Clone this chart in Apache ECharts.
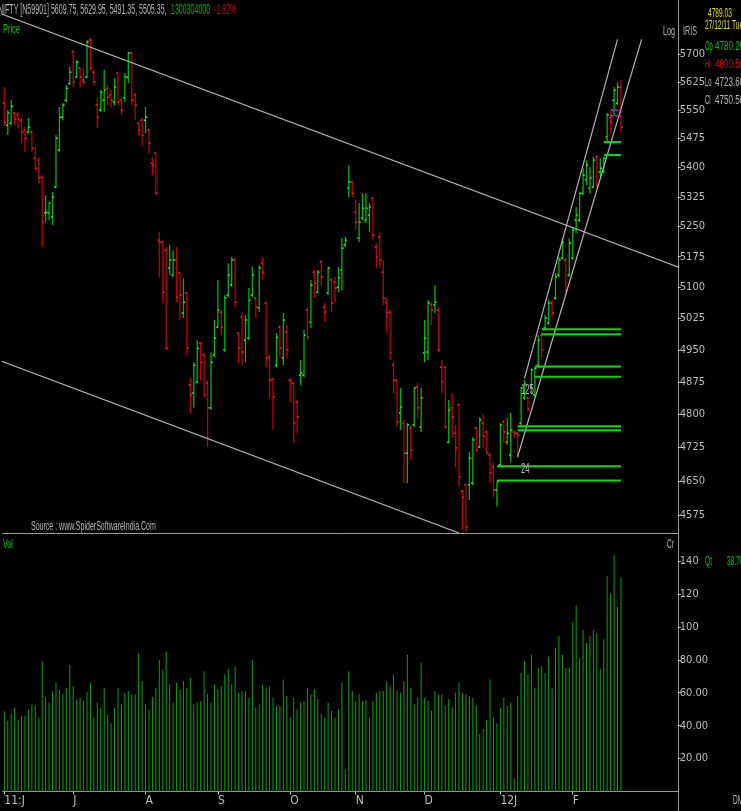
<!DOCTYPE html>
<html><head><meta charset="utf-8">
<script src="https://cdn.jsdelivr.net/npm/echarts@6/dist/echarts.min.js"></script>
<style>html,body{margin:0;padding:0;background:#000;overflow:hidden}#c{width:741px;height:811px}</style>
</head><body><div id="c"></div>
<script>
// ---- data ----
// daily bars: [open, high, low, close]
const ohlc = [
[5568,5611,5510,5518],[5510,5550,5484,5542],[5515,5576,5510,5560],[5542,5545,5510,5526],[5537,5545,5502,5526],
[5523,5529,5463,5492],[5497,5505,5440,5476],[5492,5529,5489,5505],[5492,5497,5440,5450],[5424,5453,5393,5398],
[5419,5427,5360,5373],[5375,5380,5199,5261],[5284,5329,5261,5286],[5284,5312,5266,5309],[5274,5337,5254,5324],
[5350,5484,5347,5476],[5445,5558,5440,5531],[5531,5568,5523,5563],[5576,5616,5571,5608],[5621,5665,5616,5651],
[5706,5711,5611,5625],[5638,5684,5635,5678],[5662,5665,5611,5638],[5630,5662,5616,5625],[5638,5738,5635,5733],
[5738,5744,5657,5662],[5651,5657,5616,5625],[5563,5584,5502,5531],[5550,5603,5545,5598],[5576,5657,5545,5603],
[5608,5616,5563,5584],[5590,5603,5558,5576],[5571,5635,5563,5611],[5649,5651,5563,5571],[5576,5584,5537,5550],
[5582,5649,5571,5638],[5638,5706,5622,5703],[5703,5706,5563,5576],[5590,5595,5523,5563],[5515,5518,5484,5497],
[5523,5529,5458,5484],[5523,5558,5489,5531],[5497,5502,5437,5463],[5411,5427,5380,5406],[5437,5440,5329,5334],
[5216,5236,5123,5211],[5211,5216,5062,5088],[5191,5199,4950,4954],[5147,5204,5130,5167],[5130,5191,5125,5167],
[5167,5199,5064,5076],[5135,5137,5021,5081],[5038,5122,5026,5064],[5086,5088,4938,4954],[4868,4884,4803,4845],
[4849,4921,4815,4914],[4875,4973,4872,4954],[4966,4969,4879,4921],[4938,4943,4838,4845],[4872,4879,4726,4815],
[4815,4943,4810,4921],[4938,5021,4933,4978],[5004,5118,5002,5045],[5040,5045,4985,5004],[4950,5081,4945,5074],
[5081,5159,5076,5130],[5106,5174,5101,5167],[5167,5172,5052,5064],[4990,4992,4919,4954],[5028,5038,4914,4945],
[4973,5033,4921,5021],[4978,5098,4973,5069],[5081,5150,5076,5130],[5074,5076,5026,5052],[5050,5154,5040,5147],
[5159,5174,5118,5137],[5062,5064,4909,4931],[4933,4938,4838,4879],[4882,4884,4764,4840],[4914,4990,4909,4980],
[5004,5009,4933,4954],[4931,5038,4914,5021],[4992,5009,4931,4950],[4879,4884,4828,4875],[4872,4875,4735,4780],
[4828,4833,4757,4794],[4891,4926,4868,4896],[4891,4997,4886,4985],[5045,5052,4973,4980],[5016,5118,5002,5105],
[5137,5142,5074,5110],[5088,5142,5086,5137],[5162,5167,5105,5125],[5052,5062,5016,5040],[5086,5150,5081,5147],
[5118,5123,5040,5062],[5113,5125,5064,5098],[5100,5150,5088,5123],[5142,5221,5093,5196],[5204,5224,5199,5216],
[5347,5406,5324,5363],[5362,5366,5324,5334],[5286,5317,5241,5261],[5221,5309,5211,5261],[5271,5334,5266,5296],
[5266,5334,5259,5296],[5279,5309,5236,5299],[5322,5324,5216,5229],[5199,5209,5147,5174],[5224,5236,5147,5167],
[5137,5167,5057,5074],[5064,5074,4992,5038],[5040,5045,4926,4943],[4914,4921,4849,4879],[4879,4882,4771,4783],
[4803,4861,4764,4817],[4780,4787,4645,4712],[4712,4780,4645,4776],[4769,4776,4697,4719],[4776,4863,4771,4861],
[4863,4872,4792,4815],[4771,4861,4760,4838],[4943,5021,4921,4978],[4945,5069,4926,5062],[5057,5064,5009,5045],
[5057,5105,5038,5064],[5045,5052,4945,4950],[4909,4926,4849,4875],[4909,4914,4767,4771],[4737,4833,4735,4810],
[4815,4849,4748,4794],[4757,4776,4681,4724],[4822,4826,4637,4659],[4628,4630,4543,4614],[4641,4645,4538,4549],
[4641,4715,4608,4701],[4645,4749,4641,4742],[4769,4771,4715,4719],[4726,4794,4724,4787],[4780.2,4800.5,4723.6,4750.5],
[4760,4764,4712,4712],[4708,4712,4645,4668],[4681,4690,4615,4630],[4630,4648,4593,4648],[4686,4780,4681,4776],
[4783,4787,4735,4760],[4737,4792,4731,4757],[4708,4803,4692,4764],[4760,4764,4746,4757],[4757,4760,4701,4753],
[4780,4863,4771,4861],[4838,4879,4833,4870],[4838,4840,4808,4812],[4867,4907,4851,4903],[4845,4909,4840,4907],
[4914,4985,4909,4973],[4985,4992,4933,4950],[5002,5033,5000,5026],[5014,5069,5009,5062],[5062,5069,5028,5038],
[5074,5135,5069,5125],[5130,5174,5125,5167],[5172,5221,5167,5211],[5167,5172,5086,5093],[5130,5221,5125,5209],
[5172,5249,5167,5241],[5266,5299,5234,5279],[5266,5337,5261,5334],[5334,5398,5329,5380],[5368,5419,5355,5406],
[5347,5401,5334,5373],[5350,5427,5347,5419],[5427,5432,5347,5355],[5388,5424,5375,5398],[5388,5427,5385,5424],
[5479,5542,5466,5537],[5531,5545,5489,5518],[5576,5611,5537,5603],[5568,5625,5563,5611],[5609.75,5629.95,5491.35,5505.35]
];
// volume (Cr)
const volume = [
48.6,43,47,51,43.5,46,46,50,53,52, 45,79,57,54,61,66,62,59,63,77,
64,56,57,55,60.5,66,45,54,51,63, 46.5,41.5,51,63,53,60,61,59,59,84,
67,53,50,57.5,63,80,74,85,65,54, 66,62,67,63,69,53,54,55,73,59,
54,65,62,64,71,74.5,65,76,60,61, 61,57,80,51,53,65,63,64,57,52,
52,68,58,45,57,50,54,55,63,59, 62,56,47,45,54,49,45,50,66,13,
73,61,55,59,55,55.5,45,55,60,61, 61,67,64,71,61,60,67,83,63,53,
57,78,57,55,49,61,59,59,52,56, 51,60,66,60,59,58,57,52,35,38,
43.5,68,45,41.5,51,57,52,54,8,58, 72,79,71,83,63,75,76,72,82,63,
87,94.5,83,75,75,103,113,81,98,90, 94.5,98,96.5,74.5,92.5,131,120,143.5,112,130
];
const slotCount = 196;                 // bar slots on the time axis (incl. empty right margin)
const monthLabels = ['11:J','J','A','S','O','N','D','12J','F'];
const monthStartIdx = [0,20,41,62,83,102,122,144,165];
const priceTicks = [4575,4650,4725,4800,4875,4950,5025,5100,5175,5250,5325,5400,5475,5550,5625,5700];
const priceMin = 4536, priceMax = 5849;
const volMax = 155.8;
// trend lines: [x1 index, price1, x2 index, price2]
const trendLines = [[-1.25,5811,195.6,5148],[-1.25,4924,132.3,4536],[150.7,4883,178.2,5740],[149.0,4704,184.5,5740]];
// horizontal levels: [from index, to index, price]
const levelLines = [[156,179,4999],[156,179,4987],[154,179,4911],[154,179,4887],[149,179,4773],[149,179,4764],[143,179,4683],[143,179,4651],[174,179,5466],[174,179,5432]];
const markLevels = [[176,178.7,5550],[176.3,178.5,5535]];
const noteIdx = [150.3,150.2], notePrice = [4857,4676], noteText = ['125','24'];
// info panel (cursor bar)
const infoLabels = ['Op','Hi','Lo','Cl'];
const infoValues = ['4780.20','4800.50','4723.60','4750.50'];

// ---- chart ----
const cats = Array.from({length: slotCount}, (_, i) => String(i));
const FONT = 'Liberation Sans';
const NARROW = "'Liberation Sans Narrow','DejaVu Sans Condensed','Liberation Sans',sans-serif";
const GRAY = '#bdbdbd';
function txt(x, y, s, fill, size, sx) {
  return {type:'text', x:x, y:y, scaleX:sx, silent:true,
    style:{text:s, fill:fill, fontSize:size, fontFamily:FONT, verticalAlign:'middle', align:'left'}};
}
const infoColors = ['#00c800','#e00000','#b4b4b4','#b4b4b4'];
const infoY = [46, 64, 82, 100];
const infoTexts = [];
infoLabels.forEach((l, k) => {
  infoTexts.push(txt(705, infoY[k], l, infoColors[k], 13, 0.45));
  infoTexts.push(txt(715, infoY[k], infoValues[k], infoColors[k], 13, 0.62));
});
const chart = echarts.init(document.getElementById('c'), null, {renderer:'canvas'});
chart.setOption({
  backgroundColor:'#000',
  animation:false,
  grid:[
    {left:2.58, right:63.2, top:0, height:533},
    {left:2.58, right:63.2, top:535, height:256.5}
  ],
  xAxis:[
    {type:'category', gridIndex:0, data:cats, boundaryGap:true,
     axisLine:{lineStyle:{color:'#9a9a9a', width:1}}, axisTick:{show:false}, axisLabel:{show:false}, splitLine:{show:false}},
    {type:'category', gridIndex:1, data:cats, boundaryGap:true,
     axisLine:{lineStyle:{color:'#9a9a9a', width:1}},
     axisTick:{show:true, alignWithLabel:true, length:3, interval:(i)=>monthStartIdx.includes(i), lineStyle:{color:GRAY}},
     axisLabel:{show:true, interval:(i)=>monthStartIdx.includes(i), align:'left', margin:3, color:GRAY, fontSize:12, fontFamily:NARROW,
       formatter:(v, i)=>{const k = monthStartIdx.indexOf(Number(v)); return k >= 0 ? monthLabels[k] : '';}},
     splitLine:{show:false}}
  ],
  yAxis:[
    {type:'log', gridIndex:0, position:'right', min:priceMin, max:priceMax, logBase:10,
     axisLine:{show:false}, splitLine:{show:false},
     axisTick:{show:true, length:3, inside:false, customValues:priceTicks, lineStyle:{color:GRAY}},
     axisLabel:{show:true, customValues:priceTicks, margin:2, color:GRAY, fontSize:11, fontFamily:NARROW,
       formatter:(v)=>String(Math.round(v))}},
    {type:'value', gridIndex:1, position:'right', min:0, max:volMax, interval:20,
     axisLine:{show:false}, splitLine:{show:false},
     axisTick:{show:true, length:3, lineStyle:{color:GRAY}},
     axisLabel:{show:true, margin:2, color:GRAY, fontSize:11, fontFamily:NARROW, showMaxLabel:false, showMinLabel:false,
       formatter:(v)=> v === 0 ? '' : (v < 100 ? v.toFixed(2) : String(v))}}
  ],
  series:[
    {type:'custom', name:'price', xAxisIndex:0, yAxisIndex:0, silent:true,
     data: ohlc.map((d, i) => [i, d[0], d[1], d[2], d[3]]),
     encode:{x:0, y:[1,2,3,4]},
     renderItem:(p, api)=>{
       const i = api.value(0), o = api.value(1), h = api.value(2), l = api.value(3), c = api.value(4);
       const pH = api.coord([i, h]), pL = api.coord([i, l]), pO = api.coord([i, o]), pC = api.coord([i, c]);
       const up = c >= o;
       const x = pH[0];
       const body = up ? '#00b800' : '#c00000';
       const tick = up ? '#30ff30' : '#ff2828';
       return {type:'group', children:[
         {type:'line', shape:{x1:x, y1:pH[1], x2:x, y2:pL[1]}, style:{stroke:body, lineWidth:1.3}},
         {type:'line', shape:{x1:x-1.7, y1:pO[1], x2:x, y2:pO[1]}, style:{stroke:tick, lineWidth:1.4}},
         {type:'line', shape:{x1:x, y1:pC[1], x2:x+1.7, y2:pC[1]}, style:{stroke:tick, lineWidth:1.4}}
       ]};
     }},
    {type:'custom', name:'trend', xAxisIndex:0, yAxisIndex:0, silent:true, clip:true,
     data: trendLines, encode:{x:[0,2], y:[1,3]},
     renderItem:(p, api)=>{
       const a = api.coord([api.value(0), api.value(1)]), b = api.coord([api.value(2), api.value(3)]);
       return {type:'line', shape:{x1:a[0], y1:a[1], x2:b[0], y2:b[1]}, style:{stroke:'#b4b4b4', lineWidth:1.2}};
     }},
    {type:'custom', name:'levels', xAxisIndex:0, yAxisIndex:0, silent:true,
     data: levelLines, encode:{x:[0,1], y:2},
     renderItem:(p, api)=>{
       const a = api.coord([api.value(0), api.value(2)]), b = api.coord([api.value(1), api.value(2)]);
       return {type:'line', shape:{x1:a[0], y1:a[1], x2:b[0], y2:b[1]}, style:{stroke:'#00e000', lineWidth:2}};
     }},
    {type:'custom', name:'marks', xAxisIndex:0, yAxisIndex:0, silent:true,
     data: markLevels, encode:{x:[0,1], y:2},
     renderItem:(p, api)=>{
       const a = api.coord([api.value(0), api.value(2)]), b = api.coord([api.value(1), api.value(2)]);
       return {type:'line', shape:{x1:a[0], y1:a[1], x2:b[0], y2:b[1]}, style:{stroke:'#ff00ff', lineWidth:1.5, lineDash:[3,1]}};
     }},
    {type:'custom', name:'notes', xAxisIndex:0, yAxisIndex:0, silent:true,
     data: noteIdx.map((x, i) => [x, notePrice[i]]), encode:{x:0, y:1},
     renderItem:(p, api)=>{
       const a = api.coord([api.value(0), api.value(1)]);
       return {type:'text', x:a[0], y:a[1], scaleX:0.55,
         style:{text:noteText[p.dataIndex], fill:'#b8b8b8', fontSize:14, fontFamily:FONT, verticalAlign:'middle', align:'left'}};
     }},
    {type:'bar', name:'vol', xAxisIndex:1, yAxisIndex:1, data:volume, barWidth:1, silent:true,
     itemStyle:{color:'#00a800'}}
  ],
  graphic:[
    {type:'line', silent:true, shape:{x1:678.5, y1:0, x2:678.5, y2:811}, style:{stroke:'#9a9a9a', lineWidth:1}},
    {type:'line', silent:true, shape:{x1:660, y1:533.5, x2:678.5, y2:533.5}, style:{stroke:'#9a9a9a', lineWidth:1}},
    txt(-2, 10, 'NIFTY [N59901] 5609.75, 5629.95, 5491.35, 5505.35,', '#b4b4b4', 15, 0.47),
    txt(171, 10, '1300304000', '#00b000', 15, 0.47),
    txt(214, 10, '-1.82%', '#d00000', 15, 0.47),
    txt(3, 29, 'Price', '#00c800', 13, 0.57),
    txt(31, 526, 'Source : www.SpiderSoftwareIndia.Com', '#b4b4b4', 13, 0.54),
    txt(3, 544, 'Vol', '#00c800', 13, 0.55),
    txt(667, 545, 'Cr', '#b4b4b4', 12, 0.55),
    txt(663, 31, 'Log', '#b4b4b4', 13, 0.55),
    txt(683, 31, 'IRIS', '#b4b4b4', 13, 0.55),
    txt(708, 14, '4789.03', '#e0e000', 12, 0.55),
    txt(705, 26, '27/12/11 Tue', '#e0e000', 12, 0.55),
    ...infoTexts,
    txt(705, 562, 'Qt', '#00c800', 12, 0.55),
    txt(727, 562, '38.70', '#00c800', 12, 0.55),
    txt(733, 801, 'DMY', '#b4b4b4', 12, 0.55)
  ]
});
</script>
</body></html>
